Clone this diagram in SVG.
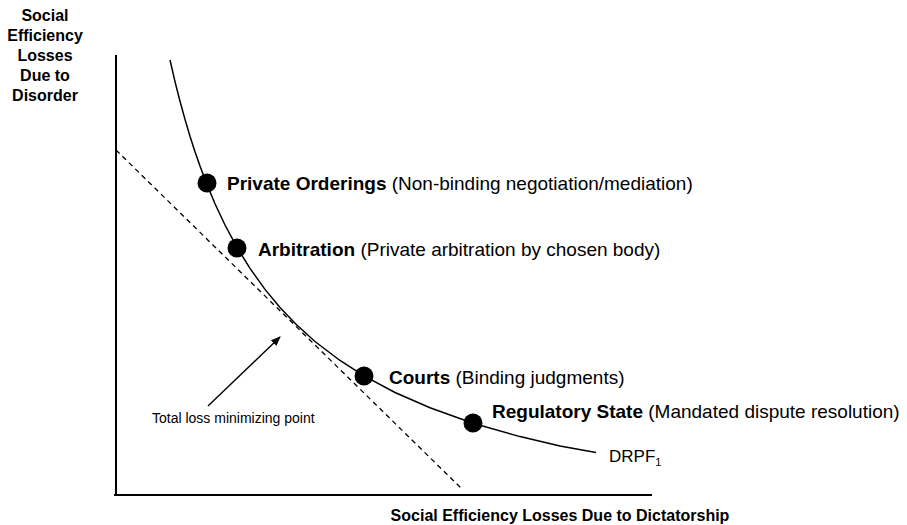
<svg xmlns="http://www.w3.org/2000/svg" width="907" height="525" viewBox="0 0 907 525">
<defs>
<marker id="ah" viewBox="0 0 10 10" refX="9" refY="5" markerWidth="7" markerHeight="7" orient="auto" markerUnits="strokeWidth">
<path d="M0,1 L10,5 L0,9 Z" fill="#000"/>
</marker>
<style>
text{font-family:"Liberation Sans",Arial,sans-serif;fill:#000}
.ax{font-size:16px;font-weight:bold}
.lbl{font-size:19px}
.b{font-weight:bold}
.dot{fill:#000}
</style>
</defs>
<rect width="907" height="525" fill="#fff"/>
<g id="axes" stroke="#000" stroke-width="2" fill="none">
<line x1="116" y1="55" x2="116" y2="496"/>
<line x1="114" y1="495" x2="652" y2="495"/>
</g>
<g id="y-label" class="ax" text-anchor="middle">
<text x="45" y="21">Social</text>
<text x="45" y="41">Efficiency</text>
<text x="45" y="61">Losses</text>
<text x="45" y="81">Due to</text>
<text x="45" y="101">Disorder</text>
</g>
<g id="x-label"><text class="ax" x="560" y="521" text-anchor="middle">Social Efficiency Losses Due to Dictatorship</text></g>
<g id="connectors" fill="none" stroke="#000">
<polyline stroke-width="1.5" points="170,60 175,81.6 180,101.3 185,119.4 190,136.2 195,151.7 200,166.1 207,184.6 215,203.7 225,225 237,247.4 250,268.4 265,289.4 280,307.5 296,324.3 315,341.5 340,360.5 364,375.9 395,392.5 430,407.8 473,423.2 520,436.6 560,446.1 596,452.5"/>
<line x1="116" y1="150" x2="463" y2="490" stroke-width="1.3" stroke-dasharray="5,4"/>
<line x1="208" y1="406" x2="280" y2="337" stroke-width="1.4" marker-end="url(#ah)"/>
</g>
<g id="private-orderings">
<circle class="dot" cx="207" cy="183" r="9.5"/>
<text class="lbl" x="227" y="190"><tspan class="b">Private Orderings</tspan> (Non-binding negotiation/mediation)</text>
</g>
<g id="arbitration">
<circle class="dot" cx="237" cy="248" r="9.5"/>
<text class="lbl" x="258" y="256"><tspan class="b">Arbitration</tspan> (Private arbitration by chosen body)</text>
</g>
<g id="courts">
<circle class="dot" cx="364" cy="376" r="9.5"/>
<text class="lbl" x="389" y="384"><tspan class="b">Courts</tspan> (Binding judgments)</text>
</g>
<g id="regulatory-state">
<circle class="dot" cx="473" cy="423" r="9.5"/>
<text class="lbl" x="492" y="418"><tspan class="b">Regulatory State</tspan> (Mandated dispute resolution)</text>
</g>
<g id="drpf"><text x="609" y="462" font-size="17">DRPF<tspan font-size="11" dy="4">1</tspan></text></g>
<g id="tlmp"><text x="152" y="423" font-size="14">Total loss minimizing point</text></g>
</svg>
